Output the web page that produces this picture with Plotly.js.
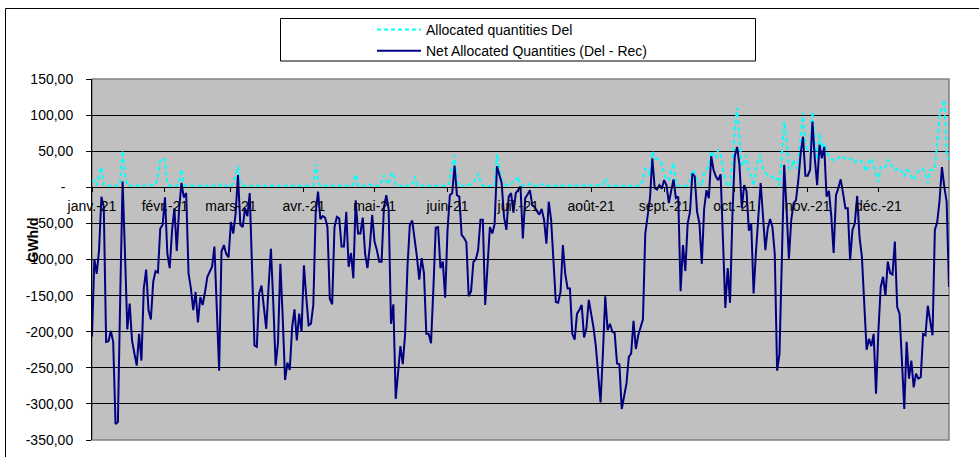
<!DOCTYPE html>
<html>
<head>
<meta charset="utf-8">
<script src="https://cdn.plot.ly/plotly-3.0.1.min.js"></script>
<style>
  html, body { margin: 0; padding: 0; background: #fff; }
  #chart { width: 979px; height: 457px; }
</style>
</head>
<body>
<div id="chart"></div>
<script>
// ---- Data (GWh/d), one array per month ----
const netJan = [-207, -100, -120, -87, -13, -27, -214, -213, -199, -214, -328, -325, -150, 8, -90, -197, -161, -212, -230, -247, -203, -240, -140, -114, -170, -183, -131, -116, -118, -57, -52];
const netFeb = [-14, -92, -112, -60, -29, -88, -30, 6, -14, -8, -119, -140, -170, -145, -187, -152, -163, -145, -124, -117, -110, -82, -170, -254, -89, -80, -92, -97];
const netMar = [-48, -64, -36, 17, -52, -55, -29, -40, -8, -110, -219, -221, -147, -136, -166, -196, -138, -85, -160, -247, -215, -106, -180, -267, -243, -253, -194, -169, -212, -175, -200];
const netApr = [-108, -152, -191, -189, -163, -36, -6, -44, -40, -42, -55, -154, -162, -55, -41, -43, -82, -82, -34, -110, -91, -126, -18, -64, -64, -42, -92, -112, -82, -38];
const netMay = [-75, -87, -103, -103, -27, -11, -30, -189, -162, -293, -255, -220, -245, -203, -110, -52, -46, -70, -96, -128, -98, -119, -203, -203, -216, -140, -56, -55, -112, -103, -153];
const netJun = [-60, -11, -8, 30, -11, -13, -66, -70, -76, -151, -144, -103, -100, -87, -45, -45, -163, -100, -55, -64, -51, 29, 19, 6, -41, -59, -13, -8, -35, -8];
const netJul = [-4, 1, -71, -15, -10, -4, -25, -27, -33, -38, -30, -45, -78, -20, -45, -100, -159, -160, -145, -80, -120, -140, -140, -203, -211, -175, -170, -163, -208, -195, -156];
const netAug = [-175, -194, -220, -258, -298, -230, -151, -198, -189, -200, -202, -244, -245, -307, -291, -272, -235, -230, -185, -224, -205, -194, -183, -64, -36, -15, 40, -1, -3, 3, -2];
const netSep = [10, 3, -22, -5, 11, -15, -13, -144, -80, -116, -50, -34, 19, 15, -34, -50, -106, -30, -4, -15, 43, 24, 15, 10, 18, -73, -167, -112, -160, -40];
const netOct = [43, 56, 31, -29, 3, -5, -60, -50, -147, -90, -45, 6, -40, -87, -57, -44, -55, -92, -254, -231, -100, 31, -30, -99, -45, -22, -18, 10, 47, 70, 16];
const netNov = [16, 24, 91, 40, 3, 59, 40, 56, -13, -5, -40, -91, -11, -1, 11, -8, -29, -29, -101, -59, -50, -12, -69, -96, -152, -225, -210, -220, -203, -286];
const netDec = [-200, -138, -124, -150, -103, -119, -121, -75, -166, -175, -240, -307, -214, -265, -240, -277, -258, -265, -263, -203, -205, -164, -185, -205, -59, -48, -18, 28, 1, -20, -138];

const delJan = [10, 8, 2, 18, 28, 3, 2, 2, 2, 2, 2, 2, 5, 51, 18, 2, 2, 2, 2, 2, 2, 2, 2, 2, 2, 2, 2, 3, 15, 38, 40];
const delFeb = [38, 4, 2, 2, 2, 2, 5, 25, 4, 2, 2, 2, 2, 2, 2, 2, 2, 2, 2, 2, 2, 2, 2, 2, 5, 2, 2, 2];
const delMar = [2, 5, 15, 29, 3, 2, 2, 2, 2, 2, 2, 2, 2, 2, 2, 2, 2, 2, 2, 2, 2, 2, 2, 2, 2, 2, 2, 2, 2, 2, 2];
const delApr = [2, 2, 2, 2, 2, 32, 8, 2, 2, 2, 2, 2, 2, 2, 2, 2, 2, 2, 2, 2, 2, 4, 18, 2, 2, 2, 2, 2, 4, 2];
const delMay = [2, 2, 2, 8, 17, 8, 4, 19, 20, 2, 2, 2, 2, 2, 2, 2, 4, 15, 3, 2, 2, 2, 2, 2, 2, 2, 2, 2, 2, 2, 2];
const delJun = [2, 10, 31, 44, 8, 2, 2, 2, 2, 4, 4, 6, 12, 19, 8, 2, 2, 2, 2, 2, 2, 46, 28, 10, 5, 3, 3, 4, 10, 10];
const delJul = [15, 3, 2, 2, 3, 5, 2, 2, 2, 2, 4, 4, 2, 2, 2, 2, 2, 2, 2, 2, 2, 2, 2, 2, 2, 2, 2, 2, 2, 2, 2];
const delAug = [2, 2, 2, 2, 2, 3, 12, 3, 2, 2, 2, 2, 2, 2, 2, 2, 2, 2, 2, 2, 2, 2, 10, 26, 24, 17, 50, 40, 39, 38, 33];
const delSep = [22, 10, 10, 24, 34, 5, 2, 2, 2, 2, 2, 8, 24, 20, 8, 5, 2, 19, 24, 30, 50, 45, 40, 52, 45, 25, 10, 2, 2, 33];
const delOct = [80, 110, 66, 29, 35, 44, 20, 17, 2, 25, 38, 45, 25, 20, 17, 15, 15, 10, 12, 2, 45, 91, 66, 26, 26, 38, 26, 33, 70, 103, 60];
const delNov = [50, 50, 105, 60, 38, 75, 54, 61, 50, 43, 40, 37, 38, 40, 43, 42, 40, 40, 40, 38, 34, 38, 38, 35, 28, 22, 35, 40, 29, 18];
const delDec = [8, 28, 30, 28, 38, 33, 28, 24, 25, 26, 22, 15, 24, 22, 15, 10, 18, 22, 24, 26, 18, 6, 24, 24, 26, 60, 100, 110, 121, 45, 38];

const monthStarts = ['2021-01-01', '2021-02-01', '2021-03-01', '2021-04-01', '2021-05-01', '2021-06-01',
                     '2021-07-01', '2021-08-01', '2021-09-01', '2021-10-01', '2021-11-01', '2021-12-01'];
const monthLabels = ['janv.-21', 'févr.-21', 'mars-21', 'avr.-21', 'mai-21', 'juin-21',
                     'juil.-21', 'août-21', 'sept.-21', 'oct.-21', 'nov.-21', 'déc.-21'];
const yTickVals = [-350, -300, -250, -200, -150, -100, -50, 0, 50, 100, 150];
const yTickText = ['-350,00', '-300,00', '-250,00', '-200,00', '-150,00', '-100,00', '-50,00', '-\u00a0\u00a0', '50,00', '100,00', '150,00'];
const seriesNames = ['Allocated quantities Del', 'Net Allocated Quantities (Del - Rec)'];

// ---- Build daily series ----
const netAllocated = [].concat(netJan, netFeb, netMar, netApr, netMay, netJun, netJul, netAug, netSep, netOct, netNov, netDec);
const allocatedDel = [].concat(delJan, delFeb, delMar, delApr, delMay, delJun, delJul, delAug, delSep, delOct, delNov, delDec);
const dates = [];
for (let i = 0; i < netAllocated.length; i++) {
  dates.push(new Date(Date.UTC(2021, 0, 1 + i)).toISOString().slice(0, 10));
}

// ---- Pixel helpers for decorations (plot area: x 92..949, y 79..440) ----
const W = 979, H = 457, L = 92, R = 949, T = 79, B = 440;
const px = x => (x - L) / (R - L);
const py = y => (B - y) / (B - T);

const FONT = 'Liberation Sans, Arial, Helvetica, sans-serif';

const traces = [
  {
    x: dates, y: allocatedDel, type: 'scatter', mode: 'lines', name: seriesNames[0],
    line: { color: '#00FFFF', width: 2, dash: '4px,3px' }, hoverinfo: 'skip'
  },
  {
    x: dates, y: netAllocated, type: 'scatter', mode: 'lines', name: seriesNames[1],
    line: { color: '#000080', width: 2 }, hoverinfo: 'skip'
  }
];

const layout = {
  width: W, height: H,
  margin: { l: L, r: W - R, t: T, b: H - B, pad: 0 },
  paper_bgcolor: '#FFFFFF',
  plot_bgcolor: '#C0C0C0',
  font: { family: FONT, size: 14, color: '#000' },
  showlegend: true,
  legend: {
    x: px(372), y: py(14), xanchor: 'left', yanchor: 'top',
    bgcolor: 'rgba(0,0,0,0)', borderwidth: 0,
    font: { family: FONT, size: 14, color: '#000' },
    itemwidth: 44
  },
  xaxis: {
    type: 'date', range: ['2021-01-01', '2021-12-31'],
    anchor: 'free', position: 0.7,
    tickmode: 'array', tickvals: monthStarts, ticktext: monthLabels,
    ticks: 'outside', ticklen: 4, tickcolor: '#000', tickwidth: 1,
    ticklabelstandoff: 2,
    showgrid: false, zeroline: false, showline: true, linecolor: '#000', linewidth: 1,
    tickfont: { family: FONT, size: 14, color: '#000' },
    fixedrange: true
  },
  yaxis: {
    range: [-350, 150],
    tickmode: 'array', tickvals: yTickVals, ticktext: yTickText,
    ticks: 'outside', ticklen: 5, tickcolor: '#000', tickwidth: 1,
    ticklabelstandoff: 10,
    showgrid: true, gridcolor: '#000', gridwidth: 1,
    zeroline: true, zerolinecolor: '#000', zerolinewidth: 1,
    showline: true, linecolor: '#000', linewidth: 1,
    tickfont: { family: FONT, size: 14, color: '#000' },
    fixedrange: true
  },
  shapes: [
    // plot area border
    { type: 'rect', xref: 'paper', yref: 'paper', x0: 0, x1: 1, y0: 0, y1: 1,
      line: { color: '#808080', width: 1.5 }, layer: 'below' },
    // legend box
    { type: 'rect', xref: 'paper', yref: 'paper', x0: px(280.5), x1: px(755.5), y0: py(61), y1: py(18.5),
      line: { color: '#000', width: 1 }, fillcolor: 'rgba(0,0,0,0)' },
    // chart area border (left and top visible)
    { type: 'line', xref: 'paper', yref: 'paper', x0: px(5.5), x1: px(5.5), y0: py(8.5), y1: py(470),
      line: { color: '#000', width: 1 } },
    { type: 'line', xref: 'paper', yref: 'paper', x0: px(5.5), x1: px(990), y0: py(8.5), y1: py(8.5),
      line: { color: '#000', width: 1 } }
  ],
  annotations: [
    { text: 'GWh/d', xref: 'paper', yref: 'paper', x: px(32.5), y: py(240),
      xanchor: 'center', yanchor: 'middle', textangle: -90, showarrow: false,
      font: { family: FONT, size: 14, color: '#000', weight: 'bold' } }
  ]
};

Plotly.newPlot('chart', traces, layout, { displayModeBar: false, staticPlot: true });
</script>
</body>
</html>
